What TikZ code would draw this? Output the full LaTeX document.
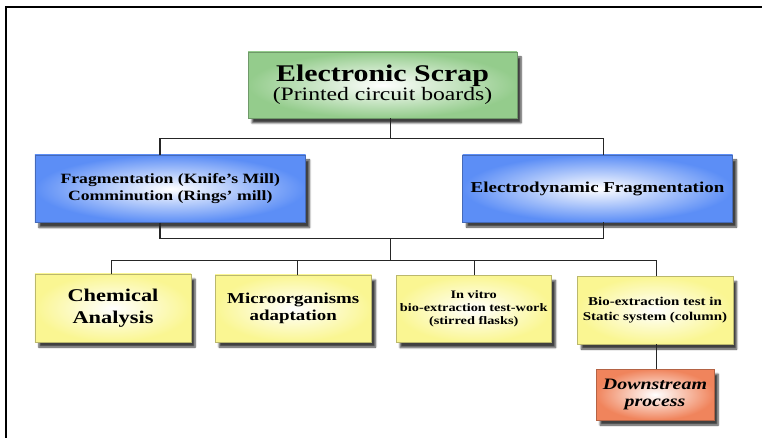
\documentclass[tikz,border=0pt]{standalone}
\usepackage{fontspec}
\setmainfont[FakeStretch=1.25]{Liberation Serif}
\usepackage{tikz}
\usetikzlibrary{shadows.blur}

\definecolor{scrapgreen}{RGB}{148,204,140}
\definecolor{fragblue}{RGB}{92,142,246}
\definecolor{testyellow}{RGB}{250,246,146}
\definecolor{downorange}{RGB}{240,132,92}

\begin{document}
\begin{tikzpicture}[
  x=1bp, y=-1bp,
  box/.style={draw=#1!75!black, line width=0.3bp, shading=radial, inner color=white, outer color=#1,
    align=center, inner sep=0pt,
    blur shadow={shadow xshift=4bp, shadow yshift=-5bp, shadow opacity=75, shadow blur steps=6}},
  conn/.style={draw=black!85, line width=1.3bp}
]
\useasboundingbox (0,0) rectangle (762,438);
% frame
\draw[line width=2bp] (5.7,438) -- (5.7,7.3) -- (762,7.3);

\node[box=scrapgreen, minimum width=269bp, minimum height=66bp, font=\bfseries] (scrap) at (382.5,85)
  {\fontsize{24}{24}\selectfont Electronic Scrap\\
   \fontsize{19}{23}\selectfont\mdseries (Printed circuit boards)};

\node[box=fragblue, minimum width=270.5bp, minimum height=67.5bp, font=\fontsize{14.2}{16.7}\selectfont\bfseries] (frag) at (170.25,188.75)
  {Fragmentation (Knife’s Mill)\\Comminution (Rings’ mill)};
\node[box=fragblue, minimum width=270bp, minimum height=67bp, font=\fontsize{15.2}{17}\selectfont\bfseries] (edf) at (597.5,188.5)
  {Electrodynamic Fragmentation};

\node[box=testyellow, minimum width=156bp, minimum height=68bp, font=\fontsize{18}{22.3}\selectfont\bfseries] (chem) at (113,308)
  {Chemical\\Analysis};
\node[box=testyellow, minimum width=156.5bp, minimum height=67bp, font=\fontsize{15.2}{17.3}\selectfont\bfseries] (micro) at (293.25,308.5)
  {Microorganisms\\adaptation};
\node[box=testyellow, minimum width=155.5bp, minimum height=67bp, font=\fontsize{11.5}{13}\selectfont\bfseries] (vitro) at (473.75,309)
  {In vitro\\bio-extraction test-work\\(stirred flasks)};
\node[box=testyellow, minimum width=155.4bp, minimum height=67.5bp, font=\fontsize{12}{15}\selectfont\bfseries] (bio) at (655,310.25)
  {Bio-extraction test in\\Static system (column)};

\node[box=downorange, minimum width=118bp, minimum height=51bp, font=\fontsize{16}{17}\selectfont\bfseries\itshape] (down) at (655,394.5)
  {Downstream\\process};

% bus junctions and drop columns
\coordinate (bus1) at (390.7,138.7);
\coordinate (bus2) at (390.7,238.7);
\coordinate (bus3) at (390.7,260.7);
\coordinate (colL) at (160,0);
\coordinate (colR) at (603.3,0);
\coordinate (colA) at (111.7,0);
\coordinate (colB) at (297.3,0);
\coordinate (colC) at (474.3,0);
\coordinate (colD) at (656.5,0);

\draw[conn] (scrap.south -| bus1) -- (bus1);
\draw[conn] (frag.north -| colL) |- (bus1) -| (edf.north -| colR);
\draw[conn] (frag.south -| colL) |- (bus2) -| (edf.south -| colR);
\draw[conn] (bus2) -- (bus3);
\draw[conn] (chem.north -| colA) |- (bus3) -| (bio.north -| colD);
\draw[conn] (bus3 -| colB) -- (micro.north -| colB);
\draw[conn] (bus3 -| colC) -- (vitro.north -| colC);
\draw[conn] (bio.south -| colD) -- (down.north -| colD);
\end{tikzpicture}
\end{document}
